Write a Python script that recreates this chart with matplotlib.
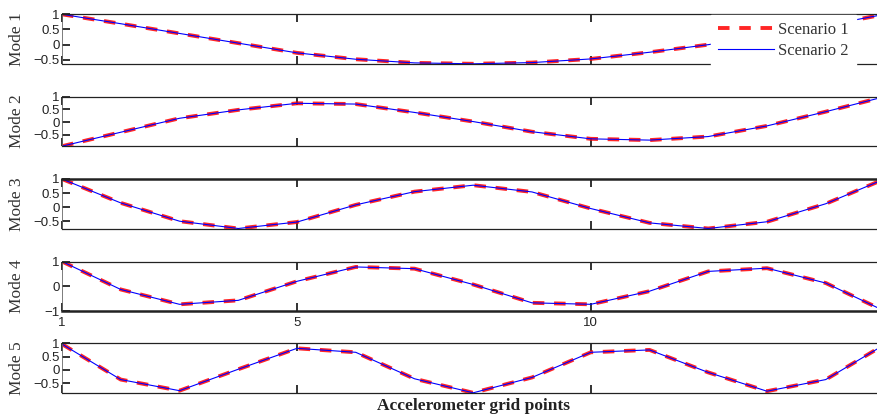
import matplotlib
matplotlib.use("Agg")
import matplotlib.pyplot as plt
import numpy as np

plt.rcParams['lines.scale_dashes'] = False

grid_points = list(range(1, 16))
mode_labels = ["Mode 1", "Mode 2", "Mode 3", "Mode 4", "Mode 5"]

scenario1 = [
    [1.0, 0.69, 0.37, 0.05, -0.27, -0.48, -0.60, -0.63, -0.59, -0.47, -0.25, 0.0, 0.30, 0.63, 1.0],
    [-0.95, -0.40, 0.15, 0.48, 0.74, 0.71, 0.38, 0.02, -0.38, -0.66, -0.71, -0.57, -0.15, 0.41, 1.0],
    [1.0, 0.15, -0.50, -0.76, -0.53, 0.08, 0.55, 0.78, 0.54, -0.05, -0.56, -0.76, -0.52, 0.12, 1.0],
    [1.0, -0.13, -0.73, -0.57, 0.20, 0.78, 0.71, 0.07, -0.67, -0.73, -0.20, 0.60, 0.73, 0.13, -1.0],
    [0.97, -0.37, -0.79, 0.02, 0.81, 0.66, -0.34, -0.87, -0.29, 0.66, 0.75, -0.10, -0.81, -0.37, 0.95],
]
scenario2 = [
    [1.0, 0.69, 0.37, 0.05, -0.27, -0.48, -0.60, -0.63, -0.59, -0.47, -0.25, 0.0, 0.30, 0.63, 1.0],
    [-0.95, -0.40, 0.15, 0.48, 0.74, 0.71, 0.38, 0.02, -0.38, -0.66, -0.71, -0.57, -0.15, 0.41, 1.0],
    [1.0, 0.15, -0.50, -0.76, -0.53, 0.08, 0.55, 0.78, 0.54, -0.05, -0.56, -0.76, -0.52, 0.12, 1.0],
    [1.0, -0.13, -0.73, -0.57, 0.20, 0.78, 0.71, 0.07, -0.67, -0.73, -0.20, 0.60, 0.73, 0.13, -1.0],
    [0.97, -0.37, -0.79, 0.02, 0.81, 0.66, -0.34, -0.87, -0.29, 0.66, 0.75, -0.10, -0.81, -0.37, 0.95],
]
ytick_sets = [[-0.5, 0, 0.5, 1], [-0.5, 0, 0.5, 1], [-0.5, 0, 0.5, 1], [-1, 0, 1], [-0.5, 0, 0.5, 1]]
xticks = [1, 5, 10]
legend_labels = ["Scenario 1", "Scenario 2"]
xlabel_text = "Accelerometer grid points"

W, H = 877, 418
fig = plt.figure(figsize=(W / 100, H / 100), dpi=100)

left_px, right_px = 62, 884.5
tops_px = [14.3, 96.7, 179.0, 261.5, 343.3]
height_px = 49.5

serif = ['Liberation Serif', 'DejaVu Serif']
sans = ['Liberation Sans', 'DejaVu Sans']

axes = []
for i in range(5):
    ax = fig.add_axes([left_px / W, 1 - (tops_px[i] + height_px) / H,
                       (right_px - left_px) / W, height_px / H])
    axes.append(ax)
    y1 = scenario1[i]
    y2 = scenario2[i]
    l1, = ax.plot(grid_points, y1, color='#ff0000', lw=2.8, dashes=(8.3, 7.0),
                  solid_capstyle='butt', dash_capstyle='butt', alpha=0.85)
    l2, = ax.plot(grid_points, y2, color='#0000ff', lw=0.8)
    ax.set_xlim(1, 15)
    lo = min(min(y1), min(y2))
    hi = max(max(y1), max(y2))
    ax.set_ylim(lo, hi)
    ax.set_yticks(ytick_sets[i])
    ax.set_yticklabels([('%g' % t).replace('-', '\u2212') for t in ytick_sets[i]],
                       family=sans, fontsize=9.5)
    ax.set_xticks(xticks)
    ax.tick_params(axis='both', direction='in', length=5.5, width=1.3,
                   top=True, right=True, colors='#222222', pad=1.5)
    ax.tick_params(axis='y', labelcolor='#222222')
    if i == 3:
        ax.set_xticklabels([str(t) for t in xticks], family=sans, fontsize=9.5)
        ax.tick_params(axis='x', pad=4.5, labelcolor='#222222')
    else:
        ax.set_xticklabels([])
    for s in ax.spines.values():
        s.set_linewidth(0.9)
        s.set_color('#222222')
    ax.spines['left'].set_linewidth(0.6)
    ax.spines['left'].set_color('#666666')
    if i == 2:
        ax.spines['top'].set_linewidth(1.8)
    if i == 3:
        ax.spines['bottom'].set_linewidth(1.8)
    ax.set_ylabel(mode_labels[i], family=serif, fontsize=12.5, color='#333333')
    ax.yaxis.set_label_coords((25 - left_px) / (right_px - left_px), 0.5)
    if i == 0:
        leg = ax.legend([l1, l2], legend_labels, loc='upper left',
                        bbox_to_anchor=((710 - left_px) / (right_px - left_px), 1.0),
                        prop={'family': serif, 'size': 12}, frameon=True,
                        fancybox=False, handlelength=3.4, handletextpad=0.25,
                        borderpad=0.4, labelspacing=0.3, borderaxespad=0.05)
        leg.get_frame().set_facecolor('white')
        leg.get_frame().set_edgecolor('white')
        leg.get_frame().set_alpha(1.0)
        for t in leg.get_texts():
            t.set_color('#333333')

axes[-1].set_xlabel(xlabel_text, family=serif, fontsize=12.5, fontweight='bold',
                    color='#222222', labelpad=2)

fig.savefig('out.png', dpi=100)
